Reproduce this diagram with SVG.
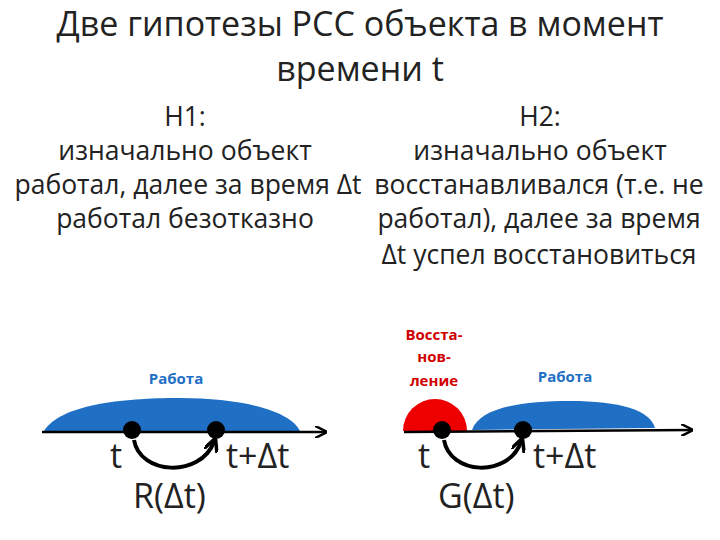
<svg xmlns="http://www.w3.org/2000/svg" width="720" height="540" viewBox="0 0 720 540">
<style>
text{font-family:"Open Sans","Liberation Sans",sans-serif;fill:#222}
.t{font-size:34px}.b{font-size:26.5px}.m{font-size:34px}.s{font-size:15px;font-weight:bold}
.ax{stroke:#000;stroke-width:2.5;fill:none}
.arc{stroke:#000;stroke-width:4;fill:none}
</style>
<defs>
<marker id="ah" viewBox="0 0 10 10" refX="9" refY="5" markerWidth="5" markerHeight="5" orient="auto"><path d="M0,0L10,5L0,10" fill="none" stroke="#000" stroke-width="2"/></marker>
<marker id="ah2" viewBox="0 0 10 10" refX="7" refY="5" markerWidth="3.5" markerHeight="3.5" orient="auto"><path d="M0,0L10,5L0,10" fill="none" stroke="#000" stroke-width="2.5"/></marker>
</defs>
<g id="title">
<text class="t" x="360" y="36" text-anchor="middle">Две гипотезы РСС объекта в момент</text>
<text class="t" x="360" y="81" text-anchor="middle">времени t</text>
</g>
<g id="h1">
<text class="b" x="185" y="126" text-anchor="middle">H1:</text>
<text class="b" x="185" y="160" text-anchor="middle">изначально объект</text>
<text class="b" x="188" y="194" text-anchor="middle">работал, далее за время Δt</text>
<text class="b" x="185" y="228" text-anchor="middle">работал безотказно</text>
</g>
<g id="h2">
<text class="b" x="540" y="126" text-anchor="middle">H2:</text>
<text class="b" x="540" y="160" text-anchor="middle">изначально объект</text>
<text class="b" x="539" y="194" text-anchor="middle">восстанавливался (т.е. не</text>
<text class="b" x="539" y="228" text-anchor="middle">работал), далее за время</text>
<text class="b" x="539" y="264" text-anchor="middle">Δt успел восстановиться</text>
</g>
<g id="left">
<path d="M44,431 C60,405 120,398 180,398 C240,398 290,410 300,431 Z" fill="#1f6fc5"/>
<text class="s" x="176" y="384" text-anchor="middle" style="fill:#1f6fc5">Работа</text>
<circle cx="132" cy="430" r="9"/><circle cx="216" cy="430" r="9"/>
<text class="m" x="110" y="468">t</text>
<text class="m" x="226" y="468">t+Δt</text>
<text class="m" x="133" y="508">R(Δt)</text>
</g>
<g id="right">
<path d="M403,431 A32,32 0 0 1 467,431 Z" fill="#ee0000"/>
<path d="M472,430 C480,408 520,401 570,401 C620,401 650,410 655,428 L472,430 Z" fill="#1f6fc5"/>
<text class="s" x="434" y="340" text-anchor="middle" style="fill:#d00000">Восста-</text>
<text class="s" x="434" y="362" text-anchor="middle" style="fill:#d00000">нов-</text>
<text class="s" x="434" y="386" text-anchor="middle" style="fill:#d00000">ление</text>
<text class="s" x="565" y="382" text-anchor="middle" style="fill:#1f6fc5">Работа</text>
<circle cx="442" cy="430" r="9"/><circle cx="523" cy="430" r="9"/>
<text class="m" x="418" y="468">t</text>
<text class="m" x="533" y="468">t+Δt</text>
<text class="m" x="438" y="508">G(Δt)</text>
</g>
<g id="connectors">
<line class="ax" x1="42" y1="432" x2="326" y2="432" marker-end="url(#ah)"/>
<line class="ax" x1="404" y1="432" x2="692" y2="430" marker-end="url(#ah)"/>
<path class="arc" d="M134,440 C140,475 200,478 214,442" marker-end="url(#ah2)"/>
<path class="arc" d="M444,440 C450,475 508,478 521,442" marker-end="url(#ah2)"/>
</g>
</svg>
